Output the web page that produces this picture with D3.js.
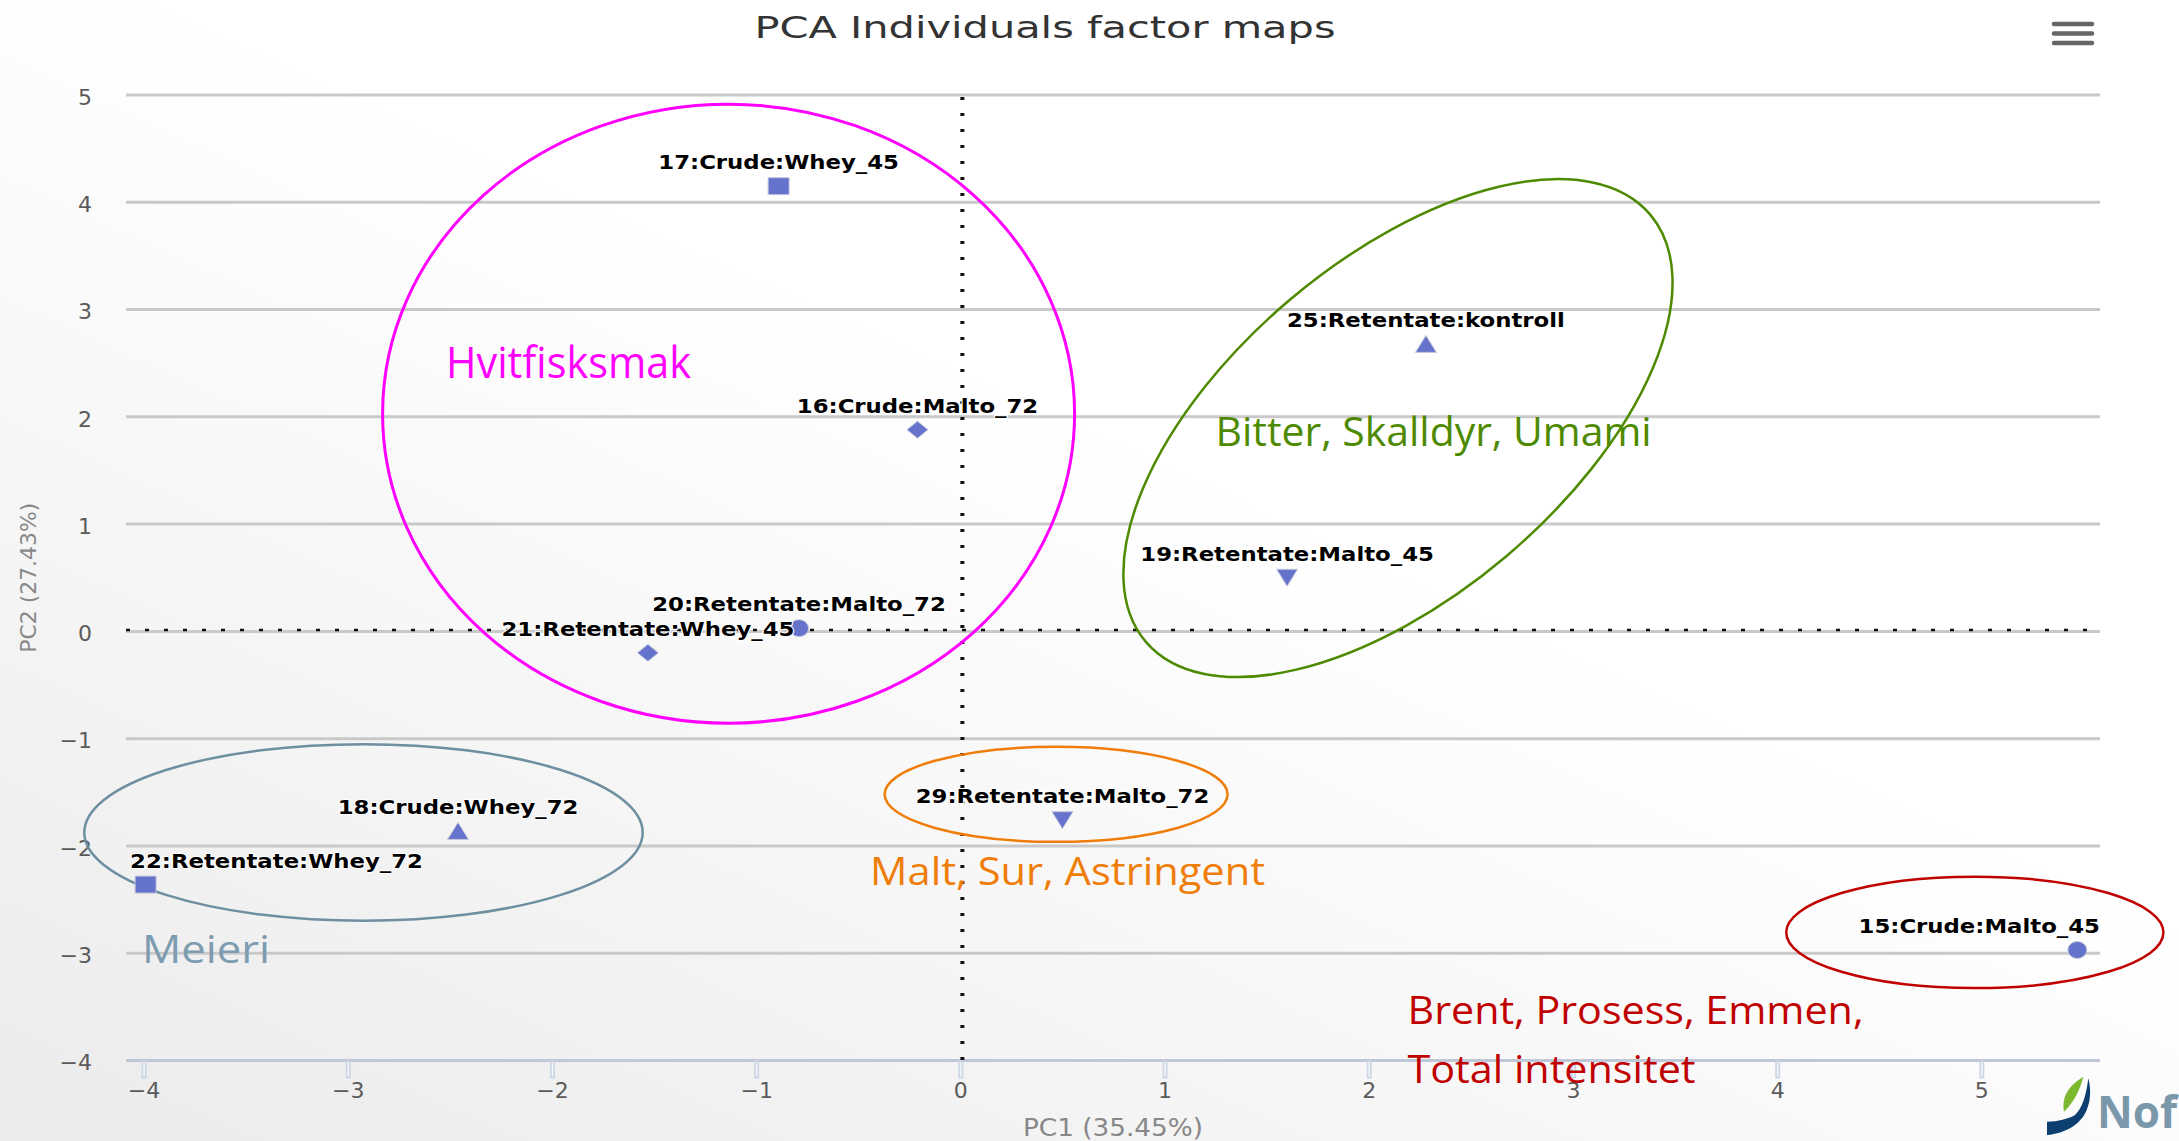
<!DOCTYPE html>
<html><head><meta charset="utf-8">
<script src="https://cdn.jsdelivr.net/npm/d3@7"></script>
<style>html,body{margin:0;padding:0;background:#fff;overflow:hidden}</style>
</head><body>
<svg id="c" width="2179" height="1141"></svg>
<script>
// ---- data ----
const labels = ["15:Crude:Malto_45","16:Crude:Malto_72","17:Crude:Whey_45","18:Crude:Whey_72","19:Retentate:Malto_45","20:Retentate:Malto_72","21:Retentate:Whey_45","22:Retentate:Whey_72","25:Retentate:kontroll","29:Retentate:Malto_72"];
const pc1 = [5.47,-0.21,-0.89,-2.46,1.60,-0.79,-1.53,-3.99,2.28,0.50];
const pc2 = [-2.97,1.88,4.15,-1.86,0.50,0.03,-0.20,-2.36,2.68,-1.76];
const xTicks = [-4,-3,-2,-1,0,1,2,3,4,5];
const yTicks = [-4,-3,-2,-1,0,1,2,3,4,5];
const title = "PCA Individuals factor maps";
const xTitle = "PC1 (35.45%)";
const yTitle = "PC2 (27.43%)";
// annotation groups (centres in PC units)
const groupNames = [["Hvitfisksmak"],["Bitter, Skalldyr, Umami"],["Meieri"],["Malt, Sur, Astringent"],["Brent, Prosess, Emmen,","Total intensitet"]];
const groupCx = [-1.135, 2.143, -2.923, 0.469, 4.968];
const groupCy = [2.029, 1.895, -1.874, -1.519, -2.806];
const groupTextX = [-2.519, 1.250, -4.007, -0.442, 2.190];
const groupTextY = [2.362, 1.730, -3.092, -2.365, -3.661];

// ---- layout / styles ----
const W = 2179, H = 1141;
const plot = {l:126, r:2100, t:95, b:1060.5};
const SX = 1.2;
const svg = d3.select("#c");
const defs = svg.append("defs");
const lg = defs.append("linearGradient").attr("id","bg").attr("x1","0").attr("y1","1").attr("x2","0.7").attr("y2","0.2");
lg.append("stop").attr("offset","0").attr("stop-color","#ebebeb");
lg.append("stop").attr("offset","0.75").attr("stop-color","#ffffff");
svg.append("rect").attr("width",W).attr("height",H).attr("fill","url(#bg)");

const x = d3.scaleLinear().domain([-4.086, 5.581]).range([plot.l, plot.r]);
const y = d3.scaleLinear().domain([-4, 5]).range([plot.b, plot.t]);

// gridlines
svg.append("g").selectAll("line").data(yTicks.filter(d=>d!==-4)).join("line")
  .attr("x1",plot.l).attr("x2",plot.r).attr("y1",d=>y(d)).attr("y2",d=>y(d))
  .attr("stroke","#c9c9c9").attr("stroke-width",3);

// x axis line
svg.append("line").attr("x1",plot.l).attr("x2",plot.r).attr("y1",y(-4)).attr("y2",y(-4))
  .attr("stroke","#c0c8d8").attr("stroke-width",3);

// y axis labels
const yAxis = svg.append("g").attr("transform",`translate(${plot.l},0)`)
  .call(d3.axisLeft(y).tickValues(yTicks).tickSize(0).tickPadding(34));
yAxis.select(".domain").remove();
yAxis.selectAll("text").attr("font-family","DejaVu Sans").attr("font-size",22).attr("fill","#5a5a5a").attr("dy","0.42em");

// x axis ticks & labels
const xAxis = svg.append("g").attr("transform",`translate(0,${plot.b})`)
  .call(d3.axisBottom(x).tickValues(xTicks).tickSize(18).tickPadding(4));
xAxis.select(".domain").remove();
xAxis.selectAll(".tick line").attr("stroke","#cdd6e6").attr("stroke-width",5);
xAxis.selectAll(".tick").append("line").attr("y1",2).attr("y2",16).attr("stroke","#f4f6fa").attr("stroke-width",1.5);
xAxis.selectAll("text").attr("font-family","DejaVu Sans").attr("font-size",22).attr("fill","#5a5a5a");

// zero lines (dotted)
svg.append("line").attr("x1",plot.l).attr("x2",plot.r).attr("y1",y(0)-1.5).attr("y2",y(0)-1.5)
  .attr("stroke","#111").attr("stroke-width",2.5).attr("stroke-dasharray","4,15");
svg.append("line").attr("x1",x(0)+2).attr("x2",x(0)+2).attr("y1",plot.t+2).attr("y2",plot.b)
  .attr("stroke","#111").attr("stroke-width",4).attr("stroke-dasharray","3,13");

// axis titles
svg.append("text").attr("transform",`translate(36,${(plot.t+plot.b)/2}) rotate(-90)`)
  .attr("text-anchor","middle").attr("font-family","DejaVu Sans").attr("font-size",22)
  .attr("fill","#888").attr("textLength",150).attr("lengthAdjust","spacingAndGlyphs").text(yTitle);
svg.append("text").attr("x",(plot.l+plot.r)/2).attr("y",1136)
  .attr("text-anchor","middle").attr("font-family","DejaVu Sans").attr("font-size",24)
  .attr("fill","#888").attr("textLength",180).attr("lengthAdjust","spacingAndGlyphs").text(xTitle);

// title
svg.append("text").attr("x",1045).attr("y",38).attr("text-anchor","middle")
  .attr("font-family","DejaVu Sans").attr("font-size",31).attr("fill","#333")
  .attr("textLength",581).attr("lengthAdjust","spacingAndGlyphs").text(title);

// hamburger
svg.append("g").selectAll("line").data([24,33.5,43]).join("line")
  .attr("x1",2054).attr("x2",2092).attr("y1",d=>d).attr("y2",d=>d)
  .attr("stroke","#666").attr("stroke-width",4.5).attr("stroke-linecap","round");

// annotations: ellipses
const ellStyle = [
  {c:"#ff00ff", rx:346, ry:309.5, rot:0, w:3},
  {c:"#4e8a00", rx:330.5, ry:167.8, rot:-40.24, w:2.5},
  {c:"#6e8fa0", rx:279.2, ry:88.3, rot:0, w:2.5},
  {c:"#f07d0a", rx:171.5, ry:47.5, rot:0, w:2.5},
  {c:"#c00000", rx:188.6, ry:55.7, rot:0, w:2.5}
];
const textStyle = [
  {c:"#ff00ff", fs:43, len:[245]},
  {c:"#4e8a00", fs:40, len:[436]},
  {c:"#7d9cb0", fs:39, len:[128]},
  {c:"#ee7d0a", fs:39, len:[395]},
  {c:"#c00000", fs:39, len:[456,288]}
];
const ann = svg.append("g");
groupNames.forEach((nm,i)=>{
  const s = ellStyle[i];
  ann.append("ellipse").attr("transform",`translate(${x(groupCx[i])},${y(groupCy[i])}) rotate(${s.rot})`)
    .attr("rx",s.rx).attr("ry",s.ry).attr("fill","none").attr("stroke",s.c).attr("stroke-width",s.w);
});

// markers
const shapes = [
  (w,h)=>`M${-w},0A${w},${h} 0 1,0 ${w},0A${w},${h} 0 1,0 ${-w},0Z`,
  (w,h)=>`M0,${-h}L${w},0L0,${h}L${-w},0Z`,
  (w,h)=>`M${-w},${-h}H${w}V${h}H${-w}Z`,
  (w,h)=>`M0,${-h}L${w},${h}H${-w}Z`,
  (w,h)=>`M${-w},${-h}H${w}L0,${h}Z`
];
const pts = labels.map((l,i)=>({label:l, x:pc1[i], y:pc2[i], sym:i%5}));
svg.append("g").selectAll("path").data(pts).join("path")
  .attr("transform",d=>`translate(${x(d.x)},${y(d.y)})`)
  .attr("d",d=>d.sym===0 ? shapes[0](9.5,8.5) : shapes[d.sym](10.5,8.5))
  .attr("fill","#6673cc").attr("stroke","#c4c8dc").attr("stroke-width",1);

// data labels
const lab = svg.append("g").selectAll("text").data(pts).join("text")
  .attr("text-anchor","middle").attr("font-family","DejaVu Sans").attr("font-weight","bold")
  .attr("font-size",19).attr("fill","#000").attr("stroke","#fff").attr("stroke-width",2)
  .attr("stroke-linejoin","round").attr("paint-order","stroke").text(d=>d.label);
lab.each(function(d){
  const w = this.getComputedTextLength()*SX;
  let cx = x(d.x);
  cx = Math.min(Math.max(cx, plot.l + 4 + w/2), plot.r - w/2);
  d3.select(this).attr("transform",`translate(${cx},${y(d.y)-17}) scale(${SX},1)`);
});

// annotation texts
groupNames.forEach((lines,i)=>{
  const s = textStyle[i];
  lines.forEach((ln,j)=>{
    ann.append("text").attr("x",x(groupTextX[i])).attr("y",y(groupTextY[i]) + j*59)
      .attr("font-family","Open Sans").attr("font-size",s.fs).attr("fill",s.c)
      .attr("textLength",s.len[j]).attr("lengthAdjust","spacingAndGlyphs").text(ln);
  });
});

// logo
const logo = svg.append("g");
logo.append("path").attr("d","M2047,1121.7 C2058,1121.5 2068,1119 2075,1115 C2082,1108 2086,1097 2088.3,1078.3 C2091,1088 2091,1100 2086.7,1110 C2081,1124 2066,1133.5 2047,1135 Z").attr("fill","#0c3f70");
logo.append("path").attr("d","M2064,1111.7 C2062,1100 2065,1088 2083.3,1076.7 C2080,1090 2074,1102 2064,1111.7 Z").attr("fill","#7cb82f");
logo.append("text").attr("x",2097).attr("y",1128).attr("font-family","Open Sans").attr("font-weight","bold")
  .attr("font-size",44).attr("fill","#7b98ab").text("Nof");
</script>
</body></html>
